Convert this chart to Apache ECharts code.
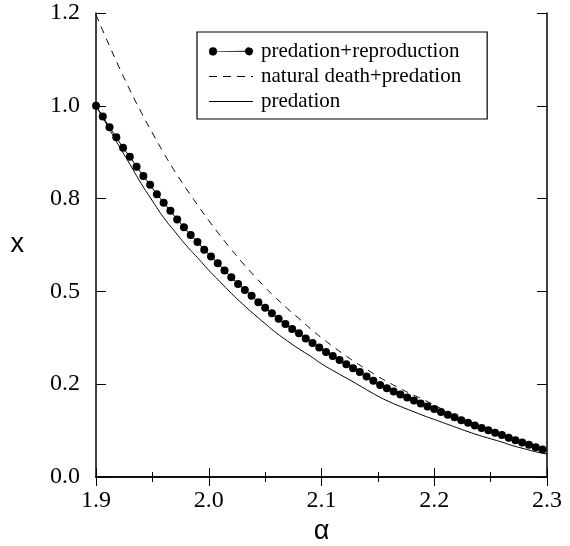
<!DOCTYPE html>
<html>
<head>
<meta charset="utf-8">
<script src="https://cdn.jsdelivr.net/npm/echarts@6/dist/echarts.min.js"></script>
<style>
html,body{margin:0;padding:0;background:#fff;}
#c{width:570px;height:546px;}
</style>
</head>
<body>
<div id="c"></div>
<script>
// ---- data ----
const seriesNames = ['predation+reproduction', 'natural death+predation', 'predation'];

const dotAlpha = [1.900,1.906,1.912,1.918,1.924,1.930,1.936,1.942,1.948,1.954,
  1.960,1.966,1.972,1.978,1.984,1.990,1.996,2.002,2.008,2.014,
  2.020,2.026,2.032,2.038,2.044,2.050,2.056,2.062,2.068,2.074,
  2.080,2.086,2.092,2.098,2.104,2.110,2.116,2.122,2.128,2.134,
  2.140,2.146,2.152,2.158,2.164,2.170,2.176,2.182,2.188,2.194,
  2.200,2.206,2.212,2.218,2.224,2.230,2.236,2.242,2.248,2.254,
  2.260,2.266,2.272,2.278,2.284,2.290,2.296];
const dotX = [1.000,0.971,0.942,0.915,0.887,0.863,0.836,0.811,0.787,0.762,
  0.739,0.717,0.694,0.673,0.652,0.633,0.612,0.594,0.576,0.556,
  0.538,0.520,0.504,0.488,0.471,0.456,0.441,0.426,0.412,0.399,
  0.387,0.373,0.361,0.349,0.337,0.326,0.315,0.304,0.293,0.283,
  0.271,0.259,0.248,0.239,0.230,0.222,0.214,0.206,0.198,0.190,
  0.183,0.175,0.168,0.161,0.153,0.146,0.139,0.132,0.126,0.119,
  0.113,0.106,0.099,0.093,0.087,0.080,0.074];

const lineAlpha = [1.90,1.91,1.92,1.93,1.94,1.95,1.96,1.97,1.98,1.99,
  2.00,2.01,2.02,2.03,2.04,2.05,2.06,2.07,2.08,2.09,
  2.10,2.11,2.12,2.13,2.14,2.15,2.16,2.17,2.18,2.19,
  2.20,2.21,2.22,2.23,2.24,2.25,2.26,2.27,2.28,2.29,2.30];
const dashX = [1.245,1.175,1.107,1.043,0.983,0.927,0.873,0.823,0.777,0.733,
  0.691,0.651,0.613,0.577,0.543,0.511,0.481,0.453,0.427,0.400,
  0.375,0.352,0.330,0.309,0.290,0.271,0.254,0.238,0.223,0.209,
  0.194,0.178,0.163,0.150,0.138,0.126,0.115,0.104,0.094,0.084,0.074];
const solidX = [1.000,0.947,0.894,0.843,0.791,0.744,0.699,0.661,0.624,0.591,
  0.557,0.526,0.495,0.466,0.439,0.413,0.388,0.366,0.345,0.326,
  0.305,0.287,0.270,0.253,0.235,0.218,0.203,0.190,0.178,0.166,
  0.155,0.144,0.133,0.122,0.112,0.103,0.094,0.084,0.076,0.068,0.062];

const xTickValues = [1.9, 2.0, 2.1, 2.2, 2.3];
const xTickLabels = ['1.9', '2.0', '2.1', '2.2', '2.3'];
const yTickValues = [0, 0.25, 0.5, 0.75, 1.0, 1.25];
const yTickLabels = ['0.0', '0.2', '0.5', '0.8', '1.0', '1.2'];

// ---- chart ----
const serif = '"Liberation Serif", "Times New Roman", serif';
const sans = '"Liberation Sans", Arial, sans-serif';

function pair(a, b) { return a.map((v, i) => [v, b[i]]); }
function lab(vals, labs) {
  return function (v) {
    for (let i = 0; i < vals.length; i++) if (Math.abs(vals[i] - v) < 1e-6) return labs[i];
    return '';
  };
}

const axisLine = { show: true, lineStyle: { color: '#000', width: 1.5 } };

const chart = echarts.init(document.getElementById('c'), null, { renderer: 'canvas' });
chart.setOption({
  animation: false,
  backgroundColor: '#fff',
  grid: { left: 96, right: 23, top: 13, bottom: 69, containLabel: false, outerBoundsMode: 'none' },
  xAxis: [
    {
      type: 'value', min: 1.9, max: 2.3, interval: 0.1, position: 'bottom',
      name: 'α', nameLocation: 'middle', nameGap: 40,
      nameTextStyle: { fontFamily: sans, fontSize: 27, color: '#000' },
      axisLine: axisLine,
      axisTick: { show: true, inside: true, length: 9, lineStyle: { color: '#000', width: 1 } },
      minorTick: { show: true, splitNumber: 2, length: 5, lineStyle: { color: '#000', width: 1 } },
      axisLabel: { formatter: lab(xTickValues, xTickLabels), fontFamily: serif, fontSize: 24, color: '#000', margin: 12 },
      splitLine: { show: false }
    },
    {
      type: 'value', min: 1.9, max: 2.3, interval: 0.1, position: 'top',
      axisLine: axisLine,
      axisTick: { show: true, inside: true, length: 9, lineStyle: { color: '#000', width: 1 } },
      minorTick: { show: true, splitNumber: 2, length: 5, lineStyle: { color: '#000', width: 1 } },
      axisLabel: { show: false },
      splitLine: { show: false }
    }
  ],
  yAxis: [
    {
      type: 'value', min: 0, max: 1.25, interval: 0.25, position: 'left',
      name: 'x', nameLocation: 'middle', nameGap: 72, nameRotate: 0,
      nameTextStyle: { fontFamily: sans, fontSize: 27, color: '#000' },
      axisLine: axisLine,
      axisTick: { show: true, inside: true, length: 10, lineStyle: { color: '#000', width: 1 } },
      axisLabel: { formatter: lab(yTickValues, yTickLabels), fontFamily: serif, fontSize: 24, color: '#000', margin: 16 },
      splitLine: { show: false }
    },
    {
      type: 'value', min: 0, max: 1.25, interval: 0.25, position: 'right',
      axisLine: axisLine,
      axisTick: { show: true, inside: true, length: 10, lineStyle: { color: '#000', width: 1 } },
      axisLabel: { show: false },
      splitLine: { show: false }
    }
  ],
  legend: {
    orient: 'vertical', left: 197, top: 32,
    padding: [9, 26, 7, 12],
    itemGap: 4, itemWidth: 44, itemHeight: 16,
    borderColor: '#000', borderWidth: 1.2, borderRadius: 0,
    backgroundColor: '#fff',
    textStyle: { fontFamily: serif, fontSize: 21, color: '#000', padding: [0, 0, 0, 3] },
    data: [
      { name: seriesNames[0], icon: 'path://M0,4 A4,4 0 1,1 8,4 L36,3.5 A4,4 0 1,1 36,4.5 L8,4.5 A4,4 0 1,1 0,4 Z' },
      { name: seriesNames[1], icon: 'path://M0,0 L8,0 L8,1 L0,1 Z M14,0 L22,0 L22,1 L14,1 Z M28,0 L36,0 L36,1 L28,1 Z M42,0 L44,0 L44,1 L42,1 Z' },
      { name: seriesNames[2], icon: 'path://M0,0 L44,0 L44,1 L0,1 Z' }
    ]
  },
  series: [
    {
      name: seriesNames[2], type: 'line', data: pair(lineAlpha, solidX),
      showSymbol: false, smooth: true, z: 2,
      lineStyle: { color: '#000', width: 1 }, itemStyle: { color: '#000' }
    },
    {
      name: seriesNames[1], type: 'line', data: pair(lineAlpha, dashX),
      showSymbol: false, smooth: true, z: 3,
      lineStyle: { color: '#000', width: 1, type: [7, 6] }, itemStyle: { color: '#000' }
    },
    {
      name: seriesNames[0], type: 'line', data: pair(dotAlpha, dotX),
      symbol: 'circle', symbolSize: 8, showSymbol: true, z: 4,
      lineStyle: { color: '#000', width: 1 }, itemStyle: { color: '#000' }
    }
  ]
});
</script>
</body>
</html>
